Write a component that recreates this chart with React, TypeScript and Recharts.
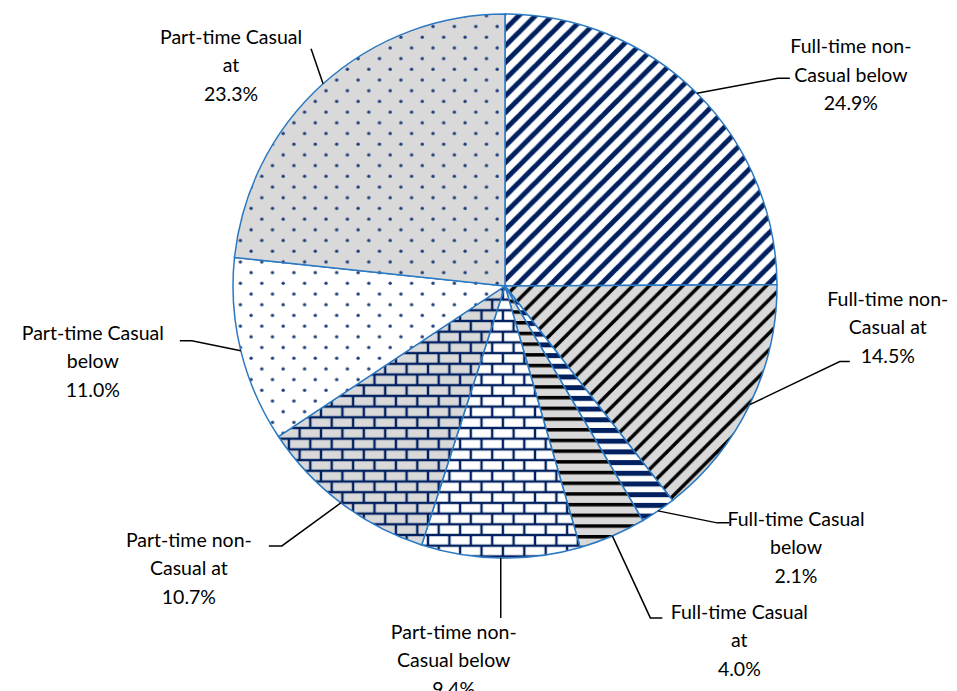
import { PieChart, Pie, Cell } from "recharts";

// 범주 및 값
const CATEGORIES = [
  "Full-time non-Casual below",
  "Full-time non-Casual at",
  "Full-time Casual below",
  "Full-time Casual at",
  "Part-time non-Casual below",
  "Part-time non-Casual at",
  "Part-time Casual below",
  "Part-time Casual at",
];
const SHARES = [24.9, 14.5, 2.1, 4.0, 9.4, 10.7, 11.0, 23.3];
const LABEL_LINES = [
  ["Full-time non-", "Casual below"],
  ["Full-time non-", "Casual at"],
  ["Full-time Casual", "below"],
  ["Full-time Casual", "at"],
  ["Part-time non-", "Casual below"],
  ["Part-time non-", "Casual at"],
  ["Part-time Casual", "below"],
  ["Part-time Casual", "at"],
];
const PATTERNS = [
  "diagNavy",
  "diagBlack",
  "horizNavy",
  "horizBlack",
  "brickWhite",
  "brickGray",
  "dotsWhite",
  "dotsGray",
];

// 라벨 배치 (앵커 기준 오프셋): 꺾임점, 수평선 길이, 텍스트 중심, 첫 줄 위치
const LABEL_LAYOUT = [
  { ex: 81, ey: -15, hx: 12, tx: 61, ty: -33 },
  { ex: 90, ey: -43, hx: 10, tx: 38, ty: -64 },
  { ex: 59, ey: 12, hx: 12, tx: 67, ty: -5 },
  { ex: 38, ey: 82, hx: 12, tx: 77, ty: -7 },
  { ex: 0, ey: 60, hx: 0, tx: -47, ty: 13 },
  { ex: -59, ey: 43, hx: -13, tx: -80, ty: -7 },
  { ex: -49, ey: -10, hx: -12, tx: -87, ty: -9 },
  { ex: -12, ey: -35, hx: 0, tx: -80, ty: -13 },
];

const data = CATEGORIES.map((name, i) => ({ name, value: SHARES[i] }));

const NAVY = "#002060";
const GRAY = "#d9d9d9";
const BORDER = "#2a78c2";
const FONT = "Lato, 'Open Sans', sans-serif";
const FONT_SIZE = 19.5;
const LINE_H = 28.5;
const RAD = Math.PI / 180;
const D = 16.7; // 대각선 무늬 타일 크기

// "/" 방향 대각선 무늬
function DiagPattern({ id, bg, fg, w }: { id: string; bg: string; fg: string; w: number }) {
  return (
    <pattern id={id} patternUnits="userSpaceOnUse" width={D} height={D}>
      <rect width={D} height={D} fill={bg} />
      <g stroke={fg} strokeWidth={w} strokeLinecap="square">
        <line x1={0} y1={D} x2={D} y2={0} />
        <line x1={-D / 2} y1={D / 2} x2={D / 2} y2={-D / 2} />
        <line x1={D / 2} y1={D * 1.5} x2={D * 1.5} y2={D / 2} />
      </g>
    </pattern>
  );
}

function PatternDefs() {
  return (
    <svg width={0} height={0} style={{ position: "absolute" }}>
      <defs>
        <DiagPattern id="diagNavy" bg="#fff" fg={NAVY} w={5} />
        <DiagPattern id="diagBlack" bg={GRAY} fg="#000" w={3.5} />
        <pattern id="horizNavy" patternUnits="userSpaceOnUse" width={10.7} height={10.7}>
          <rect width={10.7} height={10.7} fill="#fff" />
          <rect y={0} width={10.7} height={5} fill={NAVY} />
        </pattern>
        <pattern id="horizBlack" patternUnits="userSpaceOnUse" width={10.7} height={10.7}>
          <rect width={10.7} height={10.7} fill={GRAY} />
          <rect y={0} width={10.7} height={3.5} fill="#000" />
        </pattern>
        {[
          ["brickWhite", "#fff"],
          ["brickGray", GRAY],
        ].map(([id, bg]) => (
          <pattern key={id} id={id} patternUnits="userSpaceOnUse" width={21.4} height={21.4}>
            <rect width={21.4} height={21.4} fill={bg} />
            <g stroke={NAVY} strokeWidth={2.4}>
              <line x1={0} y1={0} x2={21.4} y2={0} />
              <line x1={0} y1={10.7} x2={21.4} y2={10.7} />
              <line x1={0} y1={21.4} x2={21.4} y2={21.4} />
              <line x1={0} y1={0} x2={0} y2={10.7} />
              <line x1={21.4} y1={0} x2={21.4} y2={10.7} />
              <line x1={10.7} y1={10.7} x2={10.7} y2={21.4} />
            </g>
          </pattern>
        ))}
        {[
          ["dotsWhite", "#fff"],
          ["dotsGray", GRAY],
        ].map(([id, bg]) => (
          <pattern key={id} id={id} patternUnits="userSpaceOnUse" width={21.4} height={21.4}>
            <rect width={21.4} height={21.4} fill={bg} />
            <circle cx={5} cy={5} r={1.7} fill="#24427e" />
            <circle cx={15.7} cy={15.7} r={1.7} fill="#24427e" />
          </pattern>
        ))}
      </defs>
    </svg>
  );
}

function renderLabel(props: any) {
  const { cx, cy, midAngle, outerRadius, index, value } = props;
  const ax = cx + outerRadius * Math.cos(-midAngle * RAD);
  const ay = cy + outerRadius * Math.sin(-midAngle * RAD);
  const l = LABEL_LAYOUT[index];
  const ex = ax + l.ex;
  const ey = ay + l.ey;
  const hx = ex + l.hx;
  const tx = hx + l.tx;
  const ty = ey + l.ty;
  const lines = [...LABEL_LINES[index], `${Number(value).toFixed(1)}%`];
  return (
    <g key={`lbl-${index}`}>
      <polyline
        points={`${ax},${ay} ${ex},${ey} ${hx},${ey}`}
        fill="none"
        stroke="#000"
        strokeWidth={1.5}
      />
      <text
        x={tx}
        y={ty}
        textAnchor="middle"
        dominantBaseline="central"
        fontFamily={FONT}
        fontSize={FONT_SIZE}
        fill="#000"
      >
        {lines.map((t, i) => (
          <tspan key={i} x={tx} y={ty + i * LINE_H} dominantBaseline="central">
            {t}
          </tspan>
        ))}
      </text>
    </g>
  );
}

export default function App() {
  return (
    <div style={{ position: "absolute", left: 0, top: 0, width: 957, height: 691, background: "#fff" }}>
      <PatternDefs />
      <PieChart width={957} height={691} margin={{ top: 0, right: 0, bottom: 0, left: 0 }}>
        <Pie
          data={data}
          dataKey="value"
          nameKey="name"
          cx={505}
          cy={286}
          outerRadius={272}
          startAngle={90}
          endAngle={-270}
          label={renderLabel}
          labelLine={false}
          isAnimationActive={false}
        >
          {data.map((d, i) => (
            <Cell key={d.name} fill={`url(#${PATTERNS[i]})`} stroke={BORDER} strokeWidth={1.5} />
          ))}
        </Pie>
      </PieChart>
    </div>
  );
}
